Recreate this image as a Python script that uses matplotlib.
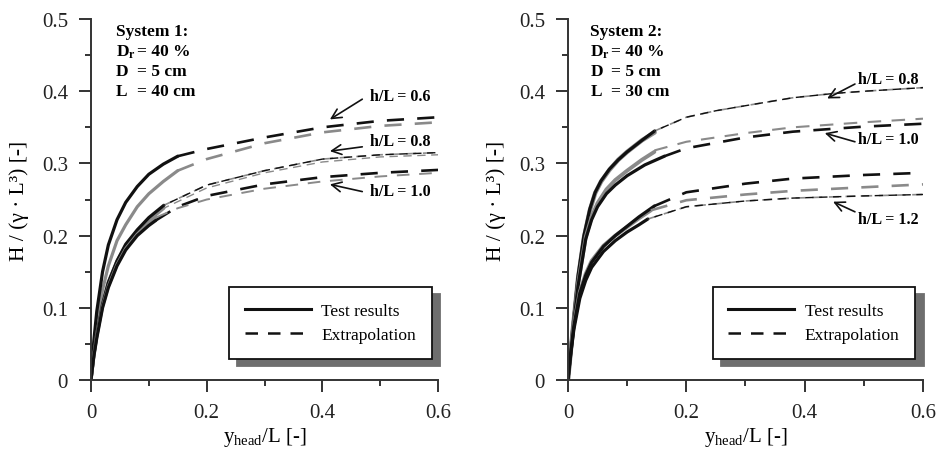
import matplotlib
matplotlib.use("Agg")
import matplotlib.pyplot as plt
from matplotlib.lines import Line2D
from matplotlib.ticker import MultipleLocator

plt.rcParams['font.family'] = ['Liberation Serif', 'DejaVu Serif']
plt.rcParams['mathtext.fontset'] = 'custom'
plt.rcParams['mathtext.rm'] = 'Liberation Serif'
plt.rcParams['mathtext.it'] = 'Liberation Serif:italic'
plt.rcParams['mathtext.bf'] = 'Liberation Serif:bold'

BLACK = '#111111'
GRAY = '#8a8a8a'

# ---- System 1 (L = 40 cm) ----
# test results (solid)
s1_x06 = [0, 0.005, 0.01, 0.02, 0.03, 0.045, 0.06, 0.08, 0.1, 0.125, 0.15]
s1_06_black = [0, 0.055, 0.095, 0.15, 0.187, 0.222, 0.246, 0.268, 0.285, 0.299, 0.31]
s1_06_gray = [0, 0.045, 0.078, 0.125, 0.158, 0.193, 0.215, 0.24, 0.258, 0.275, 0.29]
s1_x08 = [0, 0.005, 0.01, 0.02, 0.03, 0.045, 0.06, 0.08, 0.1, 0.126]
s1_08_black = [0, 0.035, 0.062, 0.105, 0.135, 0.165, 0.188, 0.208, 0.225, 0.242]
s1_08_gray = [0, 0.036, 0.064, 0.107, 0.136, 0.165, 0.186, 0.205, 0.221, 0.238]
s1_x10 = [0, 0.005, 0.01, 0.02, 0.03, 0.045, 0.06, 0.08, 0.1, 0.112]
s1_10_black = [0, 0.033, 0.058, 0.1, 0.128, 0.158, 0.18, 0.2, 0.214, 0.221]
s1_10_gray = [0, 0.034, 0.06, 0.102, 0.13, 0.16, 0.182, 0.202, 0.217, 0.225]
# extrapolation (dashed)
s1_ex06 = [0.15, 0.2, 0.3, 0.4, 0.5, 0.6]
s1_ex06_black = [0.31, 0.32, 0.336, 0.35, 0.359, 0.364]
s1_ex06_gray = [0.29, 0.306, 0.328, 0.343, 0.352, 0.357]
s1_ex08 = [0.126, 0.2, 0.3, 0.4, 0.5, 0.6]
s1_ex08_black = [0.242, 0.27, 0.29, 0.306, 0.312, 0.315]
s1_ex08_gray = [0.238, 0.266, 0.287, 0.302, 0.309, 0.312]
s1_ex10 = [0.112, 0.15, 0.2, 0.3, 0.4, 0.5, 0.6]
s1_ex10_black = [0.221, 0.24, 0.255, 0.271, 0.281, 0.287, 0.291]
s1_ex10_gray = [0.225, 0.238, 0.25, 0.265, 0.275, 0.282, 0.287]

# ---- System 2 (L = 30 cm) ----
s2_x08 = [0, 0.0085, 0.017, 0.027, 0.037, 0.046, 0.056, 0.07, 0.085, 0.1, 0.125, 0.1465]
s2_08_black = [0, 0.075, 0.144, 0.2, 0.237, 0.26, 0.276, 0.292, 0.305, 0.316, 0.332, 0.345]
s2_08_gray = [0, 0.072, 0.14, 0.197, 0.235, 0.259, 0.275, 0.291, 0.305, 0.316, 0.332, 0.343]
s2_x10 = [0, 0.0085, 0.017, 0.03, 0.04, 0.05, 0.065, 0.08, 0.1, 0.13, 0.163]
s2_10_black = [0, 0.07, 0.13, 0.195, 0.222, 0.24, 0.258, 0.27, 0.283, 0.298, 0.31]
s2_x10g = [0, 0.0085, 0.017, 0.03, 0.04, 0.05, 0.065, 0.08, 0.1, 0.125, 0.146]
s2_10_gray = [0, 0.072, 0.133, 0.198, 0.226, 0.245, 0.264, 0.277, 0.29, 0.305, 0.316]
s2_x12a = [0, 0.005, 0.01, 0.02, 0.03, 0.04, 0.06, 0.08, 0.1, 0.12, 0.146]
s2_12a = [0, 0.04, 0.075, 0.12, 0.145, 0.163, 0.185, 0.2, 0.213, 0.226, 0.241]
s2_x12b = [0, 0.005, 0.01, 0.02, 0.03, 0.04, 0.06, 0.08, 0.1, 0.12, 0.14]
s2_12b = [0, 0.042, 0.077, 0.122, 0.147, 0.165, 0.186, 0.2, 0.212, 0.224, 0.235]
s2_x12c = [0, 0.005, 0.01, 0.02, 0.03, 0.04, 0.06, 0.08, 0.1, 0.12, 0.135]
s2_12c = [0, 0.038, 0.07, 0.113, 0.138, 0.156, 0.178, 0.193, 0.205, 0.215, 0.223]
# extrapolation
s2_ex08 = [0.1465, 0.2, 0.25, 0.3, 0.38, 0.45, 0.5, 0.6]
s2_ex08_y = [0.345, 0.364, 0.373, 0.38, 0.391, 0.397, 0.4, 0.405]
s2_ex10b = [0.163, 0.2, 0.3, 0.38, 0.5, 0.6]
s2_ex10_black = [0.31, 0.321, 0.336, 0.344, 0.351, 0.355]
s2_ex10g = [0.146, 0.2, 0.3, 0.38, 0.5, 0.6]
s2_ex10_gray = [0.318, 0.33, 0.342, 0.35, 0.357, 0.362]
s2_ex12a = [0.146, 0.2, 0.3, 0.38, 0.5, 0.6]
s2_ex12a_y = [0.241, 0.26, 0.272, 0.279, 0.284, 0.287]
s2_ex12b = [0.14, 0.2, 0.3, 0.38, 0.5, 0.6]
s2_ex12b_y = [0.235, 0.249, 0.257, 0.262, 0.267, 0.271]
s2_ex12c = [0.135, 0.2, 0.3, 0.38, 0.5, 0.6]
s2_ex12c_y = [0.223, 0.24, 0.248, 0.252, 0.255, 0.257]

fig = plt.figure(figsize=(9.38, 4.56), dpi=100)
ax1 = fig.add_axes([0.097, 0.1645, 0.370, 0.7915])
ax2 = fig.add_axes([0.6055, 0.1645, 0.3785, 0.7915])

DASH = (0, (6.5, 5))


def solid(ax, x, y, c, lw=2.3):
    ax.plot(x, y, color=c, lw=lw, solid_capstyle='round')


def dashed(ax, x, y, c, lw=1.9, ls=DASH):
    ax.plot(x, y, color=c, lw=lw, linestyle=ls)


def thin(ax, x, y):
    ax.plot(x, y, color=GRAY, lw=1.2, linestyle=(0, (6, 4)))
    ax.plot(x, y, color=BLACK, lw=1.0, linestyle=(5, (6, 4)))


# System 1 curves
solid(ax1, s1_x06, s1_06_gray, GRAY)
solid(ax1, s1_x06, s1_06_black, BLACK)
solid(ax1, s1_x08, s1_08_gray, GRAY)
solid(ax1, s1_x08, s1_08_black, BLACK)
solid(ax1, s1_x10, s1_10_gray, GRAY)
solid(ax1, s1_x10, s1_10_black, BLACK)
dashed(ax1, s1_ex06, s1_ex06_black, BLACK)
dashed(ax1, s1_ex06, s1_ex06_gray, GRAY)
thin(ax1, s1_ex08, s1_ex08_black)
ax1.plot(s1_ex08, s1_ex08_gray, color=GRAY, lw=1.0, linestyle=(2, (6, 4)))
dashed(ax1, s1_ex10, s1_ex10_black, BLACK)
dashed(ax1, s1_ex10, s1_ex10_gray, GRAY, lw=1.4)

# System 2 curves
solid(ax2, s2_x08, s2_08_gray, GRAY, lw=3.2)
solid(ax2, s2_x08, s2_08_black, BLACK)
solid(ax2, s2_x10g, s2_10_gray, GRAY, lw=2.8)
solid(ax2, s2_x10, s2_10_black, BLACK)
solid(ax2, s2_x12b, s2_12b, GRAY, lw=2.8)
solid(ax2, s2_x12a, s2_12a, BLACK)
solid(ax2, s2_x12c, s2_12c, BLACK)
thin(ax2, s2_ex08, s2_ex08_y)
dashed(ax2, s2_ex10b, s2_ex10_black, BLACK)
dashed(ax2, s2_ex10g, s2_ex10_gray, GRAY, lw=1.5)
dashed(ax2, s2_ex12a, s2_ex12a_y, BLACK)
dashed(ax2, s2_ex12b, s2_ex12b_y, GRAY)
thin(ax2, s2_ex12c, s2_ex12c_y)

# annotations
arrow = dict(arrowstyle='->,head_length=0.7,head_width=0.35', color=BLACK, lw=1.2,
             shrinkA=0, shrinkB=0)
labels1 = [('h/L = 0.6', 0.482, 0.393, (0.469, 0.389), (0.413, 0.361)),
           ('h/L = 0.8', 0.482, 0.331, (0.469, 0.323), (0.413, 0.317)),
           ('h/L = 1.0', 0.482, 0.262, (0.469, 0.261), (0.413, 0.271))]
labels2 = [('h/L = 0.8', 0.49, 0.417, (0.485, 0.41), (0.438, 0.39)),
           ('h/L = 1.0', 0.49, 0.334, (0.485, 0.33), (0.434, 0.342)),
           ('h/L = 1.2', 0.49, 0.223, (0.485, 0.233), (0.448, 0.247))]
for ax, labs in ((ax1, labels1), (ax2, labels2)):
    for txt, tx, ty, tail, tip in labs:
        ax.text(tx, ty, txt, fontsize=11.5, fontweight='bold', ha='left', va='center')
        ax.annotate('', xy=tip, xytext=tail, arrowprops=arrow)

# system info boxes
info = [(ax1, 'System 1:', '40 cm', 0.043, 0.079), (ax2, 'System 2:', '30 cm', 0.038, 0.073)]
rows_y = [0.483, 0.456, 0.428, 0.400]
for ax, title, lval, x0, xeq in info:
    kw = dict(fontsize=12.5, fontweight='bold', ha='left', va='center')
    ax.text(x0, rows_y[0], title, **kw)
    ax.text(x0, rows_y[1], r'D$_\mathbf{r}$', **kw)
    ax.text(xeq, rows_y[1], '= 40 %', **kw)
    ax.text(x0, rows_y[2], 'D', **kw)
    ax.text(xeq, rows_y[2], '= 5 cm', **kw)
    ax.text(x0, rows_y[3], 'L', **kw)
    ax.text(xeq, rows_y[3], '= ' + lval, **kw)

handles = [Line2D([], [], color=BLACK, lw=2.2),
           Line2D([], [], color=BLACK, lw=1.8, linestyle=(0, (5, 4)))]

for ax, bx in ((ax1, 0.398), (ax2, 0.408)):
    ax.set_xlim(0, 0.6)
    ax.set_ylim(0, 0.5)
    for s in ('top', 'right'):
        ax.spines[s].set_visible(False)
    for s in ('left', 'bottom'):
        ax.spines[s].set_color('#333333')
        ax.spines[s].set_linewidth(1.4)
    ax.xaxis.set_major_locator(MultipleLocator(0.2))
    ax.xaxis.set_minor_locator(MultipleLocator(0.1))
    ax.yaxis.set_major_locator(MultipleLocator(0.1))
    ax.yaxis.set_minor_locator(MultipleLocator(0.05))
    ax.xaxis.set_major_formatter(plt.FuncFormatter(lambda v, p: '0' if v == 0 else f'{v:.1f}'))
    ax.yaxis.set_major_formatter(plt.FuncFormatter(lambda v, p: '0' if v == 0 else f'{v:.1f}'))
    ax.tick_params(which='major', length=8.5, width=1.4, color='#333333', labelsize=15,
                   labelcolor='#222222', pad=8)
    ax.tick_params(which='minor', length=4.5, width=1.4, color='#333333')
    ax.set_xlabel(r'y$_{\mathrm{head}}$/L [-]', fontsize=15, labelpad=2)
    ax.set_ylabel('H / (γ · L³) [-]', fontsize=15.5, labelpad=9)
    leg = ax.legend(handles, ['Test results', 'Extrapolation'], loc='lower left',
                    bbox_to_anchor=(bx, 0.058), fontsize=12.5, handlelength=3.8,
                    handletextpad=0.6, borderpad=0.9, labelspacing=0.5,
                    fancybox=False, framealpha=1, edgecolor=BLACK,
                    shadow={'ox': 6, 'oy': -5, 'color': '#6e6e6e', 'alpha': 1},
                    borderaxespad=0)
    leg.get_frame().set_linewidth(1.3)

fig.savefig('out.png', dpi=100)
